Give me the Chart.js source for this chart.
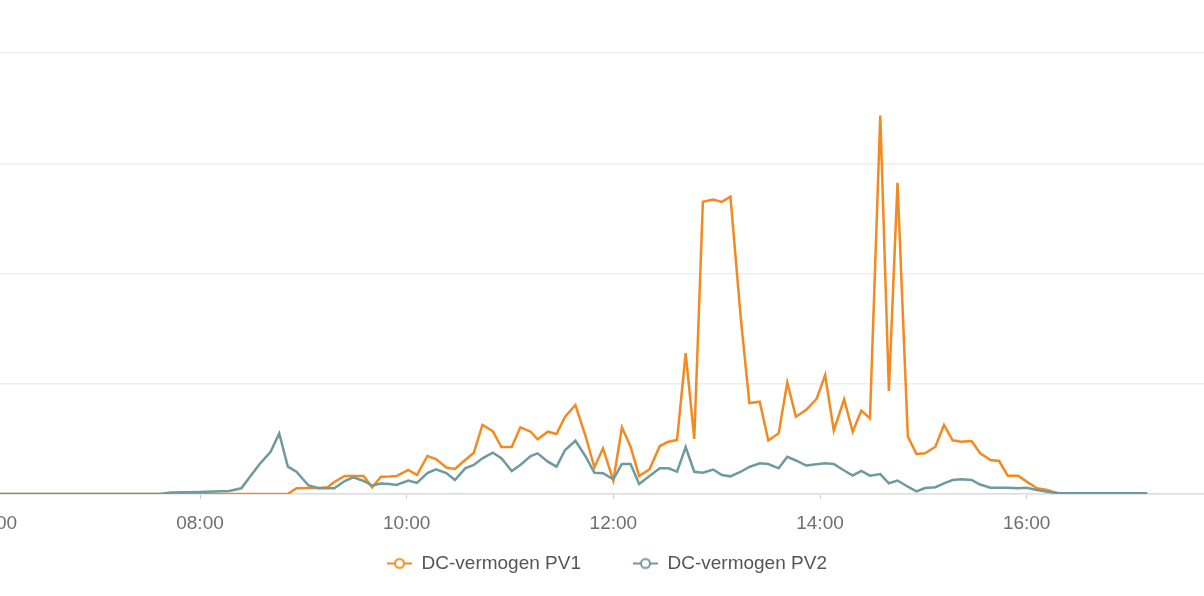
<!DOCTYPE html>
<html>
<head>
<meta charset="utf-8">
<script src="https://cdn.jsdelivr.net/npm/chart.js@4.4.1/dist/chart.umd.min.js"></script>
<style>
  html, body { margin: 0; padding: 0; background: #fff; overflow: hidden; width: 1204px; height: 596px; }
  /* the chart is wider than the window: y axis and outer ends are cut off like in the screenshot */
  #wrap { position: absolute; left: -110px; top: 0; width: 1395px; height: 596px; }
</style>
</head>
<body>
<div id="wrap"><canvas id="chart"></canvas></div>
<script>
// measurement times (HH:MM)
const times = [
  '05:30', '06:00', '06:30', '07:00', '07:20', '07:37', '07:43',
  '08:00', '08:17', '08:24', '08:29', '08:35', '08:41', '08:46', '08:51', '08:56',
  '09:03', '09:09', '09:14', '09:18', '09:24', '09:29', '09:35', '09:40', '09:45', '09:50', '09:54',
  '10:01', '10:06', '10:12', '10:17', '10:23', '10:28', '10:34', '10:39', '10:44', '10:50', '10:55',
  '11:01', '11:06', '11:12', '11:16', '11:22', '11:27', '11:32', '11:38', '11:44', '11:49', '11:54',
  '12:00', '12:05', '12:10', '12:15', '12:21', '12:27', '12:32', '12:37', '12:42', '12:47', '12:52', '12:58',
  '13:03', '13:08', '13:14', '13:19', '13:25', '13:30', '13:36', '13:41', '13:46', '13:52', '13:58',
  '14:03', '14:08', '14:14', '14:19', '14:24', '14:29', '14:35', '14:40', '14:45', '14:51', '14:56',
  '15:01', '15:07', '15:12', '15:17', '15:22', '15:28', '15:33', '15:39', '15:44', '15:49', '15:55',
  '16:00', '16:06', '16:12', '16:19', '16:30', '16:45', '17:00', '17:10'
];

// DC power PV1 (W)
const pv1 = [
  0, 0, 0, 0, 0, 0, 0,
  0, 0, 0, 0, 0, 0, 0, 0, 52,
  54, 54, 61, 109, 163, 163, 163, 59, 157, 159, 163,
  218, 172, 345, 317, 240, 227, 308, 374, 626, 571, 426,
  426, 605, 565, 496, 565, 544, 701, 807, 519, 242, 414,
  121, 605, 429, 163, 224, 435, 474, 490, 1278, 499, 2650, 2670,
  2650, 2697, 1596, 825, 837, 485, 550, 1011, 701, 764, 863,
  1079, 574, 859, 565, 757, 686, 3432, 934, 2822, 523, 363,
  369, 429, 626, 487, 474, 481, 369, 308, 299, 166, 166,
  112, 52, 36, 0, 0, 0, 0, 0
];

// DC power PV2 (W)
const pv2 = [
  0, 0, 0, 0, 0, 0, 14,
  18, 27, 52, 157, 278, 383, 550, 248, 202,
  77, 52, 52, 52, 118, 151, 118, 77, 95, 91, 82,
  122, 100, 190, 224, 190, 127, 233, 263, 324, 374, 324,
  209, 263, 345, 369, 293, 248, 399, 483, 338, 193, 188,
  133, 272, 272, 91, 163, 233, 233, 202, 426, 202, 193, 222,
  172, 160, 202, 245, 278, 272, 233, 338, 304, 258, 270,
  278, 272, 213, 168, 209, 166, 181, 97, 122, 66, 24,
  54, 62, 97, 127, 133, 127, 86, 57, 57, 57, 52,
  57, 36, 21, 6, 6, 6, 6, 6
];

const tickLabels = ['06:00', '08:00', '10:00', '12:00', '14:00', '16:00', '18:00'];

const orange = '#f38a21';
const teal = '#6f9a9d';
const fontFamily = '"Liberation Sans", Arial, sans-serif';

const toMin = (s) => {
  const [h, m] = s.split(':').map(Number);
  return h * 60 + m;
};
const fmt = (v) => String(Math.floor(v / 60)).padStart(2, '0') + ':' + String(v % 60).padStart(2, '0');

// legend marker: a short line with a hollow circle, left margin gives the gap between items
function legendIcon(color) {
  const c = document.createElement('canvas');
  c.width = 64;
  c.height = 14;
  const g = c.getContext('2d');
  g.strokeStyle = color;
  g.lineWidth = 2;
  g.beginPath();
  g.moveTo(39, 7);
  g.lineTo(64, 7);
  g.stroke();
  g.beginPath();
  g.arc(51.5, 7, 4.5, 0, Math.PI * 2);
  g.fillStyle = '#fff';
  g.fill();
  g.stroke();
  return c;
}

const ctx = document.getElementById('chart').getContext('2d');
new Chart(ctx, {
  type: 'line',
  data: {
    datasets: [
      {
        label: 'DC-vermogen PV1',
        data: times.map((t, i) => ({ x: toMin(t), y: pv1[i] })),
        borderColor: orange,
        backgroundColor: orange,
        borderWidth: 2.5,
        pointRadius: 0,
        pointStyle: legendIcon(orange),
        tension: 0,
        order: 2, // PV2 is drawn on top of PV1
      },
      {
        label: 'DC-vermogen PV2',
        data: times.map((t, i) => ({ x: toMin(t), y: pv2[i] })),
        borderColor: teal,
        backgroundColor: teal,
        borderWidth: 2.5,
        pointRadius: 0,
        pointStyle: legendIcon(teal),
        tension: 0,
        order: 1,
      },
    ],
  },
  options: {
    responsive: true,
    maintainAspectRatio: false,
    animation: false,
    layout: { padding: { top: 53, bottom: 13 } },
    plugins: {
      legend: {
        position: 'bottom',
        labels: {
          usePointStyle: true,
          pointStyleWidth: 64,
          padding: 13,
          color: '#555',
          font: { size: 19, family: fontFamily },
          sort: (a, b) => a.datasetIndex - b.datasetIndex,
        },
      },
      tooltip: { enabled: false },
    },
    scales: {
      x: {
        type: 'linear',
        min: 300,
        max: 1110,
        afterBuildTicks: (scale) => {
          scale.ticks = tickLabels.map((l) => ({ value: toMin(l) }));
        },
        afterFit: (scale) => {
          scale.height = 47; // fixed gap between plot and legend
        },
        ticks: {
          callback: (v) => fmt(v),
          color: '#6e6e6e',
          font: { size: 19, family: fontFamily, lineHeight: 0.37 },
          padding: 21.5,
          autoSkip: false,
          maxRotation: 0,
        },
        grid: { drawOnChartArea: false, tickLength: 5, color: '#cccccc' },
        border: { color: '#dddddd', width: 1.5 },
      },
      y: {
        min: 0,
        max: 4000,
        ticks: { stepSize: 1000, display: false },
        grid: { color: '#eeeeee', lineWidth: 1.5, drawTicks: false },
        border: { display: false },
      },
    },
  },
});
</script>
</body>
</html>
